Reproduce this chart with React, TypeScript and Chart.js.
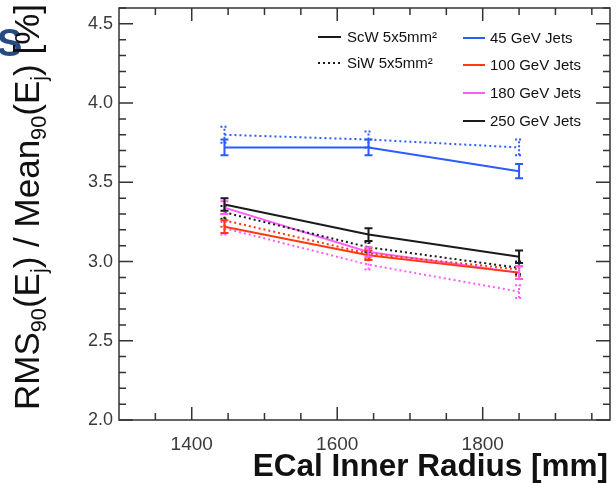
import React, { useEffect, useRef } from "react";
import { Chart, registerables } from "chart.js";

Chart.register(...registerables);

const radii = [1445, 1643, 1850];

const scw45 = [3.72, 3.72, 3.57];
const scw45Err = [0.05, 0.05, 0.045];
const siw45 = [3.80, 3.77, 3.72];
const siw45Err = [0.05, 0.05, 0.05];

const scw100 = [3.22, 3.04, 2.93];
const scw100Err = [0.04, 0.03, 0.04];
const siw100 = [3.26, 3.05, 2.95];
const siw100Err = [0.04, 0.03, 0.04];

const scw180 = [3.34, 3.06, 2.93];
const scw180Err = [0.04, 0.03, 0.04];
const siw180 = [3.21, 2.98, 2.81];
const siw180Err = [0.04, 0.03, 0.04];

const scw250 = [3.36, 3.17, 3.03];
const scw250Err = [0.04, 0.04, 0.04];
const siw250 = [3.31, 3.09, 2.96];
const siw250Err = [0.04, 0.03, 0.04];

const xTicks = [1400, 1600, 1800];
const yTicks = [2.0, 2.5, 3.0, 3.5, 4.0, 4.5];

const BLUE = "#2a5cff";
const RED = "#ff3a10";
const PINK = "#ff5cff";
const BLACK = "#1a1a1a";

const legendStyles = [
  { label: "ScW 5x5mm²", dash: [] as number[] },
  { label: "SiW 5x5mm²", dash: [2, 3] },
];
const legendEnergies = [
  { label: "45 GeV Jets", color: BLUE },
  { label: "100 GeV Jets", color: RED },
  { label: "180 GeV Jets", color: PINK },
  { label: "250 GeV Jets", color: BLACK },
];

function makeSet(vals: number[], errs: number[], color: string, dotted: boolean) {
  return {
    data: radii.map((r, i) => ({ x: r, y: vals[i] })),
    errors: errs,
    borderColor: color,
    backgroundColor: color,
    borderWidth: 2,
    borderDash: dotted ? [2, 3] : [],
    pointRadius: 0,
    showLine: true,
    fill: false,
    tension: 0,
  };
}

const frameTicksPlugin = {
  id: "frameTicks",
  afterDatasetsDraw(chart: any) {
    const { ctx, chartArea: a, scales } = chart;
    const xs = scales.x;
    const ys = scales.y;
    ctx.save();
    // error bars
    chart.data.datasets.forEach((ds: any, di: number) => {
      const meta = chart.getDatasetMeta(di);
      if (meta.hidden) return;
      ctx.strokeStyle = ds.borderColor;
      ctx.lineWidth = 2;
      ctx.setLineDash(ds.borderDash && ds.borderDash.length ? [2, 2] : []);
      ds.data.forEach((p: any, i: number) => {
        const e = ds.errors[i];
        const px = xs.getPixelForValue(p.x);
        const y1 = ys.getPixelForValue(p.y + e);
        const y0 = ys.getPixelForValue(p.y - e);
        ctx.beginPath();
        ctx.moveTo(px, y0);
        ctx.lineTo(px, y1);
        ctx.moveTo(px - 4, y0);
        ctx.lineTo(px + 4, y0);
        ctx.moveTo(px - 4, y1);
        ctx.lineTo(px + 4, y1);
        ctx.stroke();
      });
    });
    ctx.setLineDash([]);
    // frame
    ctx.strokeStyle = "#333";
    ctx.lineWidth = 1.5;
    ctx.strokeRect(a.left, a.top, a.right - a.left, a.bottom - a.top);
    // y ticks (both sides)
    for (let v = 20; v <= 46; v++) {
      const val = v / 10;
      const py = ys.getPixelForValue(val);
      if (py < a.top || py > a.bottom) continue;
      const major = v % 5 === 0;
      const len = major ? 14 : 7;
      ctx.beginPath();
      ctx.moveTo(a.left, py);
      ctx.lineTo(a.left + len, py);
      ctx.moveTo(a.right, py);
      ctx.lineTo(a.right - len, py);
      ctx.stroke();
    }
    // x ticks (bottom and top)
    for (let v = 1300; v <= 1975; v += 50) {
      const px = xs.getPixelForValue(v);
      if (px < a.left + 1 || px > a.right - 1) continue;
      const major = v % 200 === 0;
      const len = major ? 13 : 7;
      ctx.beginPath();
      ctx.moveTo(px, a.bottom);
      ctx.lineTo(px, a.bottom - len);
      ctx.moveTo(px, a.top);
      ctx.lineTo(px, a.top + len);
      ctx.stroke();
    }
    // legend
    ctx.font = "15px 'Liberation Sans', Arial, sans-serif";
    ctx.textBaseline = "middle";
    ctx.fillStyle = "#111";
    const leftY = [37, 63];
    legendStyles.forEach((s, i) => {
      ctx.strokeStyle = BLACK;
      ctx.lineWidth = 2;
      ctx.setLineDash(s.dash);
      ctx.beginPath();
      ctx.moveTo(318, leftY[i]);
      ctx.lineTo(341, leftY[i]);
      ctx.stroke();
      ctx.setLineDash([]);
      ctx.fillText(s.label, 347, leftY[i] + 1);
    });
    const rightY = [38, 65, 93, 121];
    legendEnergies.forEach((s, i) => {
      ctx.strokeStyle = s.color;
      ctx.lineWidth = 2;
      ctx.beginPath();
      ctx.moveTo(463, rightY[i]);
      ctx.lineTo(485, rightY[i]);
      ctx.stroke();
      ctx.fillText(s.label, 490, rightY[i] + 1);
    });
    ctx.restore();
  },
};

export default function App() {
  const ref = useRef<HTMLCanvasElement | null>(null);
  useEffect(() => {
    document.body.style.margin = "0";
    if (!ref.current) return;
    const chart = new Chart(ref.current, {
      type: "scatter",
      data: {
        datasets: [
          makeSet(siw45, siw45Err, BLUE, true),
          makeSet(scw45, scw45Err, BLUE, false),
          makeSet(siw180, siw180Err, PINK, true),
          makeSet(siw100, siw100Err, RED, true),
          makeSet(siw250, siw250Err, BLACK, true),
          makeSet(scw100, scw100Err, RED, false),
          makeSet(scw180, scw180Err, PINK, false),
          makeSet(scw250, scw250Err, BLACK, false),
        ] as any,
      },
      options: {
        animation: false,
        responsive: true,
        maintainAspectRatio: false,
        layout: { padding: { top: 8, right: 6, left: 0, bottom: 0 } },
        plugins: { legend: { display: false }, tooltip: { enabled: false } },
        scales: {
          x: {
            type: "linear",
            min: 1300,
            max: 1975,
            grid: { display: false, drawTicks: false },
            border: { display: false },
            afterBuildTicks: (s: any) => {
              s.ticks = xTicks.map((v) => ({ value: v }));
            },
            afterFit: (s: any) => {
              s.height = 63;
              s.paddingLeft = 0;
              s.paddingRight = 0;
            },
            ticks: {
              padding: 13,
              color: "#3a3a3a",
              font: { family: "'Liberation Sans', Arial, sans-serif", size: 19 },
              callback: (v: any) => String(v),
            },
          },
          y: {
            type: "linear",
            min: 2.0,
            max: 4.6,
            grid: { display: false, drawTicks: false },
            border: { display: false },
            afterBuildTicks: (s: any) => {
              s.ticks = yTicks.map((v) => ({ value: v }));
            },
            afterFit: (s: any) => {
              s.width = 119;
              s.paddingTop = 0;
              s.paddingBottom = 0;
            },
            ticks: {
              padding: 6,
              color: "#3a3a3a",
              font: { family: "'Liberation Sans', Arial, sans-serif", size: 18 },
              callback: (v: any) => Number(v).toFixed(1),
            },
          },
        },
      },
      plugins: [frameTicksPlugin],
    });
    return () => chart.destroy();
  }, []);

  const sub: React.CSSProperties = { fontSize: "0.62em", verticalAlign: "-0.28em" };
  return (
    <div style={{ position: "fixed", left: 0, top: 0, width: 616, height: 483, background: "#fff", overflow: "hidden" }}>
      <canvas ref={ref} style={{ position: "absolute", left: 0, top: 0, width: 616, height: 483 }} />
      <div
        style={{
          position: "absolute",
          left: -3,
          top: 24,
          fontFamily: "'Liberation Sans', Arial, sans-serif",
          fontWeight: "bold",
          fontSize: 38,
          lineHeight: "38px",
          color: "#274a82",
        }}
      >
        S
      </div>
      <div
        style={{
          position: "absolute",
          left: 33,
          top: 207,
          transform: "translate(-50%, -50%) rotate(-90deg)",
          whiteSpace: "nowrap",
          fontFamily: "'Liberation Sans', Arial, sans-serif",
          fontSize: 35,
          lineHeight: "38px",
          color: "#111",
        }}
      >
        RMS<span style={sub}>90</span>(E<span style={sub}>j</span>) / Mean<span style={sub}>90</span>(E<span style={sub}>j</span>) [%]
      </div>
      <div
        style={{
          position: "absolute",
          right: 8,
          top: 447,
          whiteSpace: "nowrap",
          fontFamily: "'Liberation Sans', Arial, sans-serif",
          fontWeight: "bold",
          fontSize: 31.5,
          lineHeight: "36px",
          color: "#111",
        }}
      >
        ECal Inner Radius [mm]
      </div>
    </div>
  );
}
